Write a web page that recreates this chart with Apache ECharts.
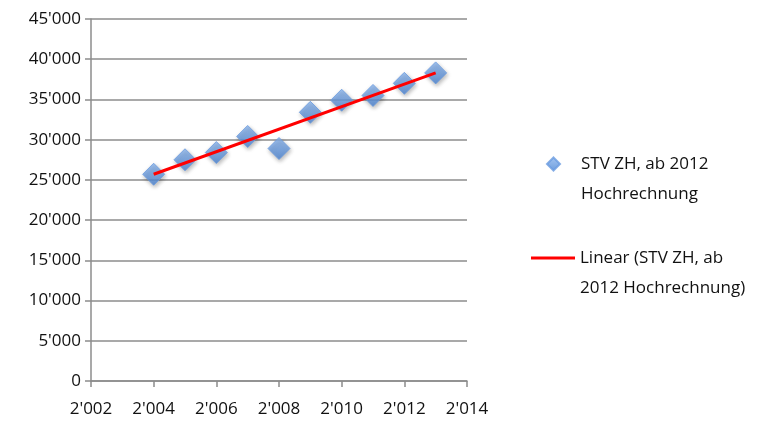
<!DOCTYPE html>
<html>
<head>
<meta charset="utf-8">
<script src="https://cdn.jsdelivr.net/npm/echarts@6/dist/echarts.min.js"></script>
<style>
	html, body { margin: 0; padding: 0; background: #fff; }
	#chart { width: 768px; height: 424px; }
</style>
</head>
<body>
<div id="chart"></div>
<script>
// values
let years = [2004, 2005, 2006, 2007, 2008, 2009, 2010, 2011, 2012, 2013];
let values = [25700, 27500, 28400, 30400, 28900, 33400, 34900, 35500, 37000, 38300];
// end points of the linear trend line as drawn
let trendYears = [2004, 2013];
let trendValues = [25700, 38300];

let seriesName = 'STV ZH, ab 2012\nHochrechnung';
let trendName = 'Linear (STV ZH, ab\n2012 Hochrechnung)';

function fmtThousand(v) {
	let s = String(Math.round(v));
	return s.replace(/\B(?=(\d{3})+(?!\d))/g, "'");
}

let font = '"Open Sans", Lato, sans-serif';
let $el = document.getElementById('chart');
let myChart = echarts.init($el, null, { renderer: 'canvas' });

let legendText = { color: '#111', fontFamily: font, fontSize: 17, lineHeight: 30 };

let option = {
	animation: false,
	grid: { left: 91, right: 301, top: 19, bottom: 43 },
	xAxis: {
		type: 'value',
		min: 2002,
		max: 2014,
		interval: 2,
		axisLine: { show: true, lineStyle: { color: '#8c8c8c', width: 1.5 } },
		axisTick: { show: true, length: 6, lineStyle: { color: '#8c8c8c', width: 1.5 } },
		splitLine: { show: false },
		axisLabel: { color: '#111', fontFamily: font, fontSize: 17, margin: 20, formatter: fmtThousand }
	},
	yAxis: {
		type: 'value',
		min: 0,
		max: 45000,
		interval: 5000,
		axisLine: { show: true, lineStyle: { color: '#8c8c8c', width: 1.5 } },
		axisTick: { show: true, length: 6, lineStyle: { color: '#8c8c8c', width: 1.5 } },
		splitLine: { show: true, lineStyle: { color: '#8c8c8c', width: 1.5 } },
		axisLabel: { color: '#111', fontFamily: font, fontSize: 17, margin: 10, formatter: fmtThousand }
	},
	legend: [{
		data: [seriesName],
		orient: 'vertical',
		left: 541,
		top: 114,
		itemWidth: 13,
		itemHeight: 13,
		// leading empty line keeps the icon level with the first text line
		formatter: (name) => '\n' + name,
		textStyle: Object.assign({ padding: [0, 0, 0, 16] }, legendText)
	}, {
		data: [trendName],
		orient: 'vertical',
		left: 526,
		top: 208,
		icon: 'rect',
		itemWidth: 44,
		itemHeight: 3,
		formatter: (name) => '\n' + name,
		textStyle: legendText
	}],
	series: [{
		name: seriesName,
		type: 'scatter',
		symbol: 'diamond',
		symbolSize: [22, 22],
		data: years.map((y, i) => [y, values[i]]),
		itemStyle: {
			color: new echarts.graphic.LinearGradient(0, 0, 0, 1, [
				{ offset: 0, color: '#8cb6ee' },
				{ offset: 1, color: '#4a84d4' }
			]),
			borderColor: '#6a9be0',
			borderWidth: 1,
			shadowBlur: 4,
			shadowOffsetX: 1,
			shadowOffsetY: 2,
			shadowColor: 'rgba(0,0,0,0.35)'
		},
		z: 2
	}, {
		name: trendName,
		type: 'line',
		showSymbol: false,
		symbol: 'none',
		data: trendYears.map((y, i) => [y, trendValues[i]]),
		lineStyle: { color: '#ff0000', width: 3 },
		itemStyle: { color: '#ff0000' },
		z: 3
	}]
};
myChart.setOption(option);
window.onresize = myChart.resize;
</script>
</body>
</html>
